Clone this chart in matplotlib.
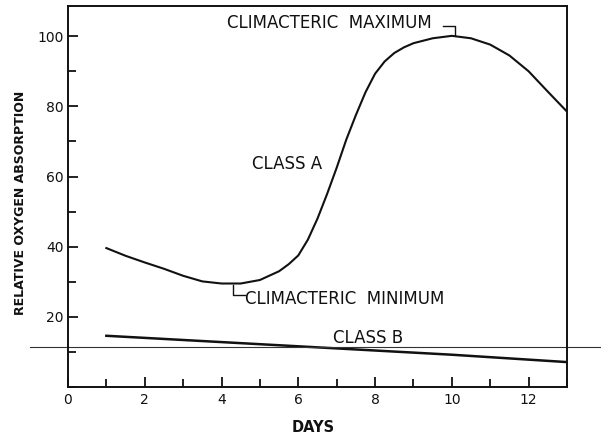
import matplotlib
matplotlib.use("Agg")
import matplotlib.pyplot as plt
from matplotlib.ticker import MultipleLocator

# Class A: climacteric fruit
DAYS_A = [1.0, 1.5, 2.0, 2.5, 3.0, 3.5, 4.0, 4.5, 5.0, 5.5, 5.75, 6.0, 6.25, 6.5,
          6.75, 7.0, 7.25, 7.5, 7.75, 8.0, 8.25, 8.5, 8.75, 9.0, 9.5, 10.0, 10.5,
          11.0, 11.5, 12.0, 12.5, 13.0]
OXY_A = [39.6, 37.4, 35.5, 33.7, 31.7, 30.1, 29.5, 29.5, 30.5, 33.0, 35.0, 37.5,
         42.0, 48.0, 55.0, 62.5, 70.5, 77.5, 84.0, 89.3, 92.8, 95.2, 96.8, 98.0,
         99.4, 100.1, 99.4, 97.6, 94.5, 90.0, 84.2, 78.5]

# Class B: non-climacteric, slow steady decline
DAYS_B = [1, 4, 7, 10, 13]
OXY_B = [14.6, 12.8, 11.0, 9.2, 7.1]

REF_LEVEL = 11.4     # the thin horizontal rule across the plot

INK = "#111111"

fig = plt.figure(figsize=(6.01, 4.36), dpi=100)
ax = fig.add_axes([0.1131, 0.1124, 0.8303, 0.8738])

ax.plot(DAYS_A, OXY_A, color=INK, lw=1.5, solid_joinstyle="round")
ax.plot(DAYS_B, OXY_B, color=INK, lw=1.8)

# long thin rule, sticks out past both sides of the frame
ax.plot([-1.0, 13.95], [REF_LEVEL, REF_LEVEL], color="#333333", lw=0.8, clip_on=False)

ax.set_xlim(0, 13)
ax.set_ylim(0, 108.6)
ax.xaxis.set_major_locator(MultipleLocator(2))
ax.xaxis.set_minor_locator(MultipleLocator(1))
ax.yaxis.set_minor_locator(MultipleLocator(10))
ax.set_yticks([20, 40, 60, 80, 100])
ax.tick_params(which="both", direction="in", width=1.3, color=INK, labelsize=10,
               labelcolor=INK)
ax.tick_params(which="major", length=7)
ax.tick_params(which="minor", length=6)
ax.tick_params(axis="y", pad=3)
ax.tick_params(axis="x", pad=4)
for s in ax.spines.values():
    s.set_linewidth(1.4)
    s.set_color(INK)

ax.set_xlabel("DAYS", fontsize=10.5, fontweight="bold", color=INK)
ax.xaxis.set_label_coords(0.491, -0.086)
ax.set_ylabel("RELATIVE OXYGEN ABSORPTION", fontsize=9, fontweight="bold", color=INK)
ax.yaxis.set_label_coords(-0.082, 0.482)

# labels on the curves
txt = dict(fontsize=12, color=INK, va="center")
ax.text(5.72, 63.5, "CLASS A", ha="center", **txt)
ax.text(7.82, 14.0, "CLASS B", ha="center", **txt)
ax.text(9.48, 103.9, "CLIMACTERIC  MAXIMUM", ha="right", **txt)
ax.text(4.62, 25.1, "CLIMACTERIC  MINIMUM", ha="left", **txt)

# bracket pointers to the max and min
ax.plot([9.76, 10.08, 10.08], [103.0, 103.0, 100.3], color=INK, lw=1.0)
ax.plot([4.3, 4.3, 4.6], [29.0, 26.2, 26.2], color=INK, lw=1.0)

fig.savefig("out.png")
